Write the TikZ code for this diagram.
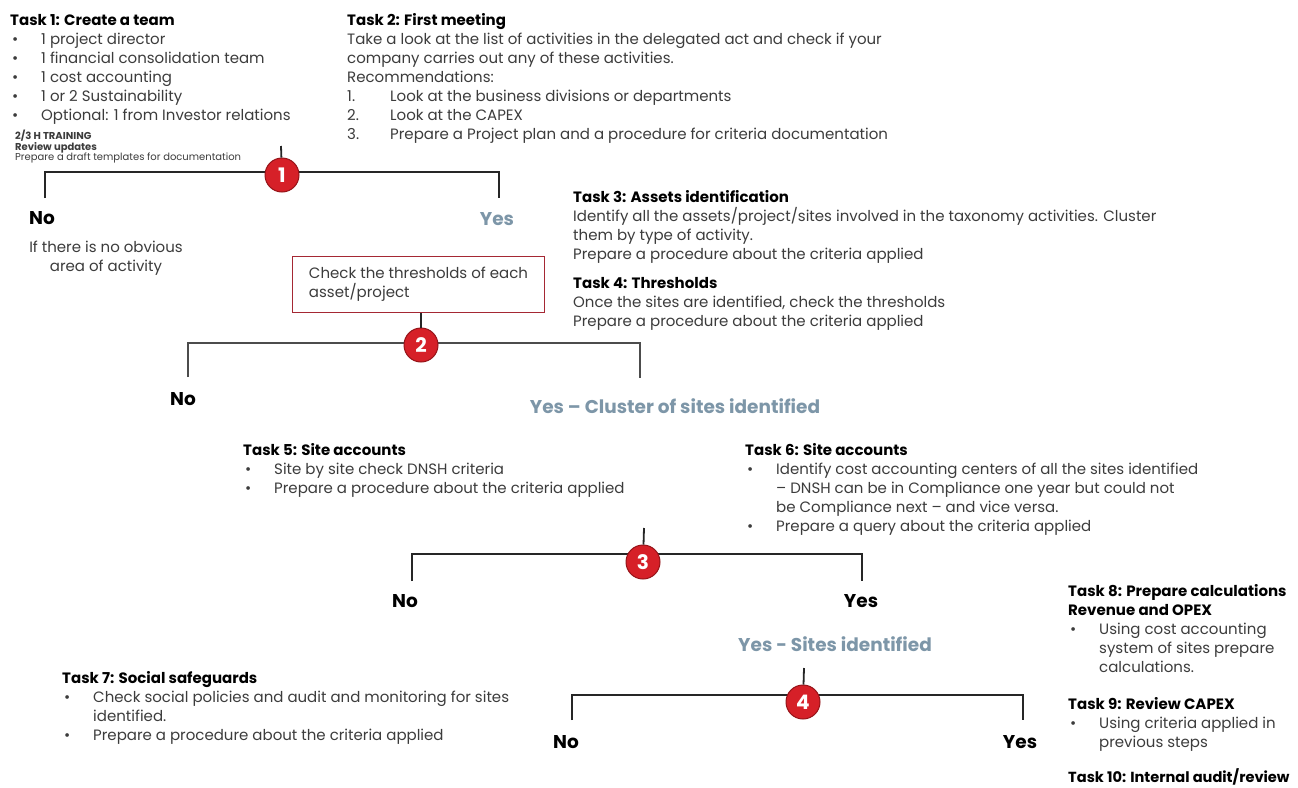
\documentclass[tikz,border=0pt]{standalone}
\usepackage{fontspec}
\setmainfont{Poppins}
\definecolor{bodygray}{RGB}{60,60,60}
\definecolor{yesblue}{RGB}{125,150,168}
\definecolor{numred}{RGB}{214,32,40}
\definecolor{numdark}{RGB}{150,20,25}
\definecolor{boxred}{RGB}{165,40,52}
\newcommand\ttl[1]{\rule{0pt}{12pt}{\bfseries\color{black}#1}}
\newcommand\bul{\makebox[31pt][l]{\hspace{2pt}\textbullet}}
\newcommand\ind{\hspace*{31pt}}
\newcommand\numi[1]{\makebox[43pt][l]{#1}}
\begin{document}
\begin{tikzpicture}[x=1pt,y=-1pt,
  blk/.style={anchor=north west,inner sep=0pt,align=left,text=bodygray,font=\fontsize{15}{19}\selectfont},
  small/.style={anchor=north west,inner sep=0pt,align=left,text=bodygray,font=\fontsize{10}{10.5}\selectfont},
  yn/.style={inner sep=0pt,font=\bfseries\fontsize{18.5}{20}\selectfont,text=black},
  yb/.style={yn,text=yesblue},
  num/.style={circle,fill=numred,draw=numdark,line width=1pt,minimum size=34pt,inner sep=0pt,text=white,font=\bfseries\fontsize{20}{20}\selectfont},
  tree/.style={draw=black!85,line width=1.8pt},
  threshbox/.style={draw=boxred,line width=1pt,anchor=north west,minimum width=252pt,minimum height=56pt,inner xsep=15pt,align=left,text=bodygray,font=\fontsize{15}{19}\selectfont}
]
\useasboundingbox[fill=white] (0,0) rectangle (1298,787);

% text blocks
\node[blk] (t1) at (10,13) {\ttl{Task 1: Create a team}\\
\bul 1 project director\\
\bul 1 financial consolidation team\\
\bul 1 cost accounting\\
\bul 1 or 2 Sustainability\\
\bul Optional: 1 from Investor relations};
\node[small] (t1s) at (15,130) {\rule{0pt}{8pt}\textbf{2/3 H TRAINING}\\ \textbf{Review updates}\\ Prepare a draft templates for documentation};

\node[blk] (t2) at (347,13) {\ttl{Task 2: First meeting}\\
Take a look at the list of activities in the delegated act and check if your\\
company carries out any of these activities.\\
Recommendations:\\
\numi{1.}Look at the business divisions or departments\\
\numi{2.}Look at the CAPEX\\
\numi{3.}Prepare a Project plan and a procedure for criteria documentation};

\node[blk] (t3) at (573,190) {\ttl{Task 3: Assets identification}\\
Identify all the assets/project/sites involved in the taxonomy activities. Cluster\\
them by type of activity.\\
Prepare a procedure about the criteria applied};
\node[blk] (t4) at (573,276) {\ttl{Task 4: Thresholds}\\
Once the sites are identified, check the thresholds\\
Prepare a procedure about the criteria applied};

\node[blk] (t5) at (243,443) {\ttl{Task 5: Site accounts}\\
\bul Site by site check DNSH criteria\\
\bul Prepare a procedure about the criteria applied};
\node[blk] (t6) at (745,443) {\ttl{Task 6: Site accounts}\\
\bul Identify cost accounting centers of all the sites identified\\
\ind {--} DNSH can be in Compliance one year but could not\\
\ind be Compliance next {--} and vice versa.\\
\bul Prepare a query about the criteria applied};
\node[blk] (t7) at (62,671) {\ttl{Task 7: Social safeguards}\\
\bul Check social policies and audit and monitoring for sites\\
\ind identified.\\
\bul Prepare a procedure about the criteria applied};
\node[blk] (t8) at (1068,584) {\ttl{Task 8: Prepare calculations}\\
\ttl{Revenue and OPEX}\\
\bul Using cost accounting\\
\ind system of sites prepare\\
\ind calculations.};
\node[blk] (t9) at (1068,697) {\ttl{Task 9: Review CAPEX}\\
\bul Using criteria applied in\\
\ind previous steps};
\node[blk,font=\fontsize{14.6}{19}\selectfont] (t10) at (1068,768) {\ttl{Task 10: Internal audit/review}};

% tree 1
\coordinate (s1) at (281,146);
\coordinate (l1) at (45,172); \coordinate (r1) at (499,172);
\coordinate (ld1) at (45,198); \coordinate (rd1) at (499,198);
\draw[tree] (ld1) -- (l1) -- (r1) -- (rd1);
\node[num] (c1) at (282,175) {1};
\draw[tree] (s1) -- (c1);
\node[yn] (no1) at (42,218) {No};
\node[yb] (yes1) at (497,219) {Yes};
\node[blk,anchor=center,align=center] (n1) at (106,258) {If there is no obvious\\area of activity};

% box and tree 2
\node[threshbox] (box) at (292,256) {Check the thresholds of each\\asset/project};
\coordinate (l2) at (188,343); \coordinate (r2) at (640,343);
\coordinate (ld2) at (188,377); \coordinate (rd2) at (640,378);
\draw[tree,draw=black!70] (ld2) -- (l2) -- (r2) -- (rd2);
\node[num] (c2) at (421,345) {2};
\draw[tree] (box.south -| c2) -- (c2);
\node[yn] (no2) at (183,399) {No};
\node[yb] (yes2) at (675,406) {Yes -- Cluster of sites identified};

% tree 3
\coordinate (s3) at (644,528);
\coordinate (l3) at (412,554); \coordinate (r3) at (862,554);
\coordinate (ld3) at (412,581); \coordinate (rd3) at (862,581);
\draw[tree] (ld3) -- (l3) -- (r3) -- (rd3);
\node[num] (c3) at (643,562) {3};
\draw[tree] (s3) -- (c3);
\node[yn] (no3) at (405,601) {No};
\node[yn] (yes3) at (861,601) {Yes};
\node[yb] (yes3b) at (835,644) {Yes - Sites identified};

% tree 4
\coordinate (s4) at (804,668);
\coordinate (l4) at (572,695); \coordinate (r4) at (1023,695);
\coordinate (ld4) at (572,720); \coordinate (rd4) at (1023,720);
\draw[tree] (ld4) -- (l4) -- (r4) -- (rd4);
\node[num] (c4) at (803,702) {4};
\draw[tree] (s4) -- (c4);
\node[yn] (no4) at (566,742) {No};
\node[yn] (yes4) at (1020,742) {Yes};
\end{tikzpicture}
\end{document}
